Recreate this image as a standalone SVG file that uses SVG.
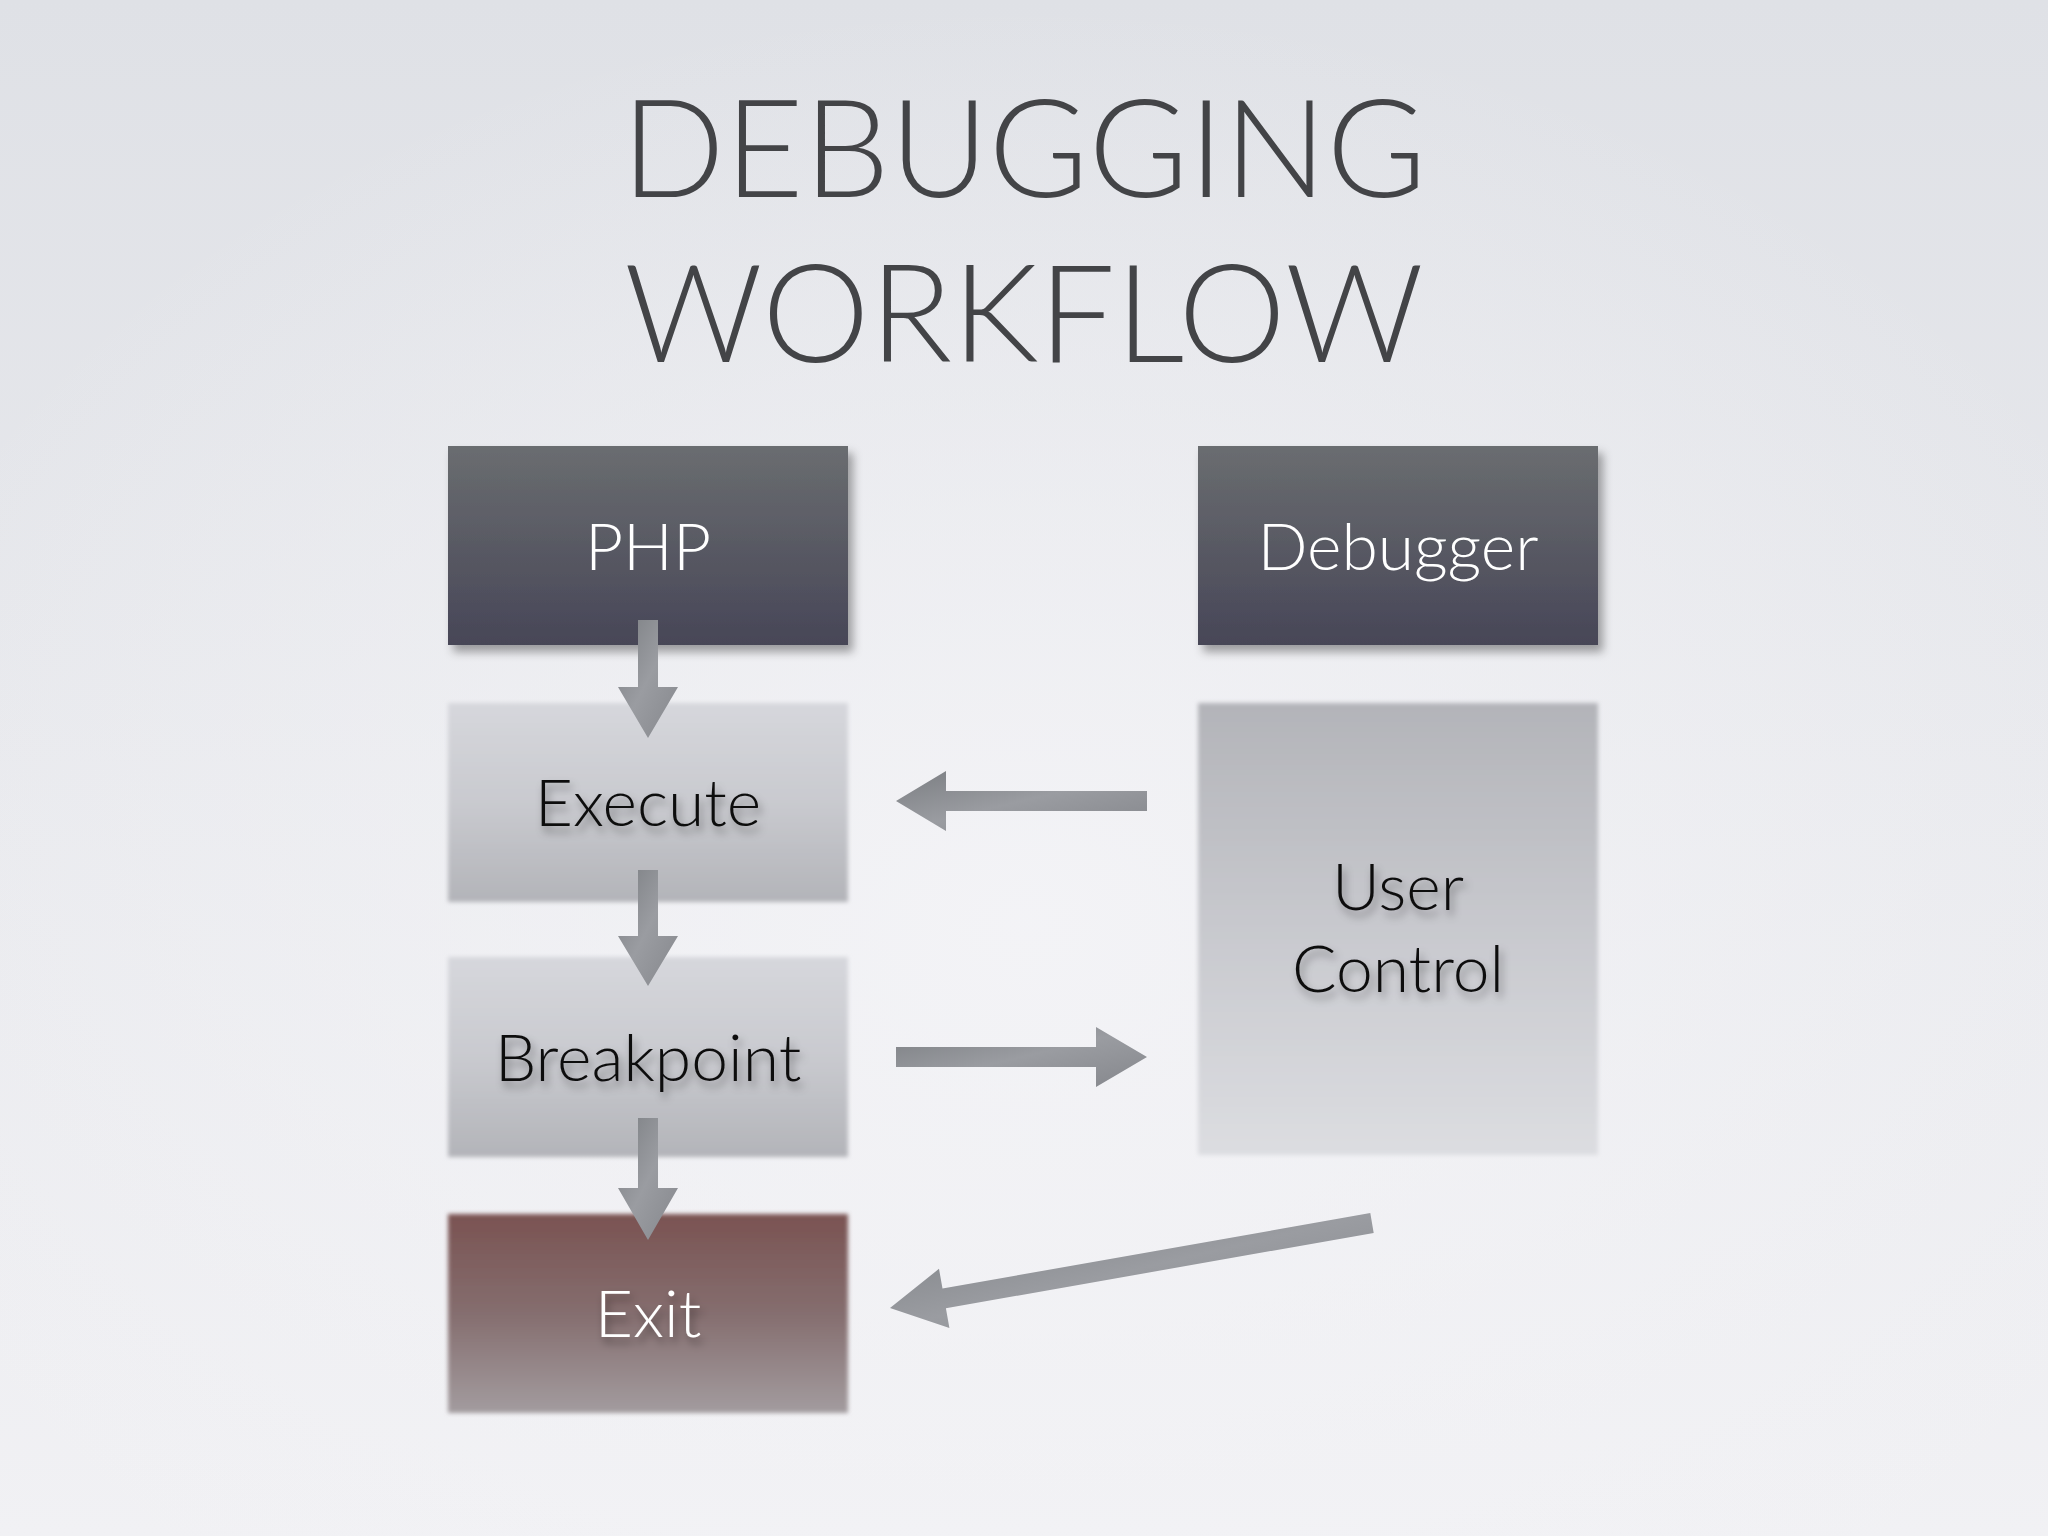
<svg xmlns="http://www.w3.org/2000/svg" width="2048" height="1536" viewBox="0 0 2048 1536">
<defs>
<linearGradient id="bg" x1="0" y1="0" x2="0" y2="1">
<stop offset="0" stop-color="#dfe1e6"/>
<stop offset="1" stop-color="#f1f1f4"/>
</linearGradient>
<radialGradient id="bgglow" cx="0.5" cy="0.6" r="0.6">
<stop offset="0" stop-color="#f4f4f7" stop-opacity="0.9"/>
<stop offset="1" stop-color="#f4f4f7" stop-opacity="0"/>
</radialGradient>
<linearGradient id="dark" x1="0" y1="0" x2="0" y2="1">
<stop offset="0" stop-color="#6a6d70"/>
<stop offset="1" stop-color="#474657"/>
</linearGradient>
<linearGradient id="lightDown" x1="0" y1="0" x2="0" y2="1">
<stop offset="0" stop-color="#d6d7dc"/>
<stop offset="0.5" stop-color="#c9cacf"/>
<stop offset="1" stop-color="#b3b4b9"/>
</linearGradient>
<linearGradient id="lightUp" x1="0" y1="0" x2="0" y2="1">
<stop offset="0" stop-color="#b3b4b9"/>
<stop offset="0.5" stop-color="#c8c9ce"/>
<stop offset="1" stop-color="#dcdde1"/>
</linearGradient>
<linearGradient id="exitG" x1="0" y1="0" x2="0" y2="1">
<stop offset="0" stop-color="#7a5352"/>
<stop offset="0.5" stop-color="#856e6f"/>
<stop offset="1" stop-color="#a39c9f"/>
</linearGradient>
<linearGradient id="arrowG" x1="0" y1="0" x2="1" y2="1">
<stop offset="0" stop-color="#7b7e82"/>
<stop offset="0.5" stop-color="#9a9ca1"/>
<stop offset="1" stop-color="#85878c"/>
</linearGradient>
<filter id="boxShadow" x="-10%" y="-10%" width="125%" height="130%">
<feDropShadow dx="5" dy="7" stdDeviation="5" flood-color="#000" flood-opacity="0.35"/>
</filter>
<filter id="softEdge" x="-5%" y="-5%" width="110%" height="110%">
<feGaussianBlur stdDeviation="2"/>
</filter>
<filter id="textShadow" x="-10%" y="-20%" width="130%" height="160%">
<feDropShadow dx="3" dy="6" stdDeviation="4" flood-color="#000" flood-opacity="0.4"/>
</filter>
</defs>
<style>
.title{font-family:Lato,"Open Sans","Liberation Sans",sans-serif;font-weight:300;font-size:136px;fill:#434447;text-anchor:middle}
.lbl{font-family:Lato,"Open Sans","Liberation Sans",sans-serif;font-weight:300;font-size:66px;text-anchor:middle}
.w{fill:#ffffff}
.k{fill:#111111}
.arrow{fill:url(#arrowG)}
</style>
<rect x="0" y="0" width="2048" height="1536" fill="url(#bg)"/>
<rect x="0" y="0" width="2048" height="1536" fill="url(#bgglow)"/>

<g id="title">
<text class="title" x="1024" y="197">DEBUGGING</text>
<text class="title" x="1024" y="362">WORKFLOW</text>
</g>

<g id="node-php">
<rect x="448" y="446" width="400" height="199" fill="url(#dark)" filter="url(#boxShadow)"/>
<text class="lbl w" x="648" y="570">PHP</text>
</g>
<g id="node-debugger">
<rect x="1198" y="446" width="400" height="199" fill="url(#dark)" filter="url(#boxShadow)"/>
<text class="lbl w" x="1398" y="570">Debugger</text>
</g>
<g id="node-execute">
<rect x="448" y="703" width="400" height="199" fill="url(#lightDown)" filter="url(#softEdge)"/>
<text class="lbl k" x="648" y="826" filter="url(#textShadow)">Execute</text>
</g>
<g id="node-breakpoint">
<rect x="448" y="957" width="400" height="200" fill="url(#lightDown)" filter="url(#softEdge)"/>
<text class="lbl k" x="648" y="1081" filter="url(#textShadow)">Breakpoint</text>
</g>
<g id="node-exit">
<rect x="448" y="1214" width="400" height="199" fill="url(#exitG)" filter="url(#softEdge)"/>
<text class="lbl w" x="648" y="1337" filter="url(#textShadow)">Exit</text>
</g>
<g id="node-usercontrol">
<rect x="1198" y="703" width="400" height="452" fill="url(#lightUp)" filter="url(#softEdge)"/>
<text class="lbl k" x="1398" y="910" filter="url(#textShadow)">User</text>
<text class="lbl k" x="1398" y="992" filter="url(#textShadow)">Control</text>
</g>

<g id="connectors">
<polygon id="php-execute" class="arrow" points="638,620 658,620 658,687 678,687 648,738 618,687 638,687"/>
<polygon id="execute-breakpoint" class="arrow" points="638,870 658,870 658,936 678,936 648,986 618,936 638,936"/>
<polygon id="breakpoint-exit" class="arrow" points="638,1118 658,1118 658,1188 678,1188 648,1240 618,1188 638,1188"/>
<polygon id="usercontrol-execute" class="arrow" points="1147,791 1147,811 946,811 946,831 896,801 946,771 946,791"/>
<polygon id="breakpoint-usercontrol" class="arrow" points="896,1047 1096,1047 1096,1027 1147,1057 1096,1087 1096,1067 896,1067"/>
<polygon id="usercontrol-exit" class="arrow" points="1370.3,1213.1 1373.7,1232.9 945.9,1308.3 949.4,1328 890,1308 939,1268.8 942.5,1288.5"/>
</g>
</svg>
